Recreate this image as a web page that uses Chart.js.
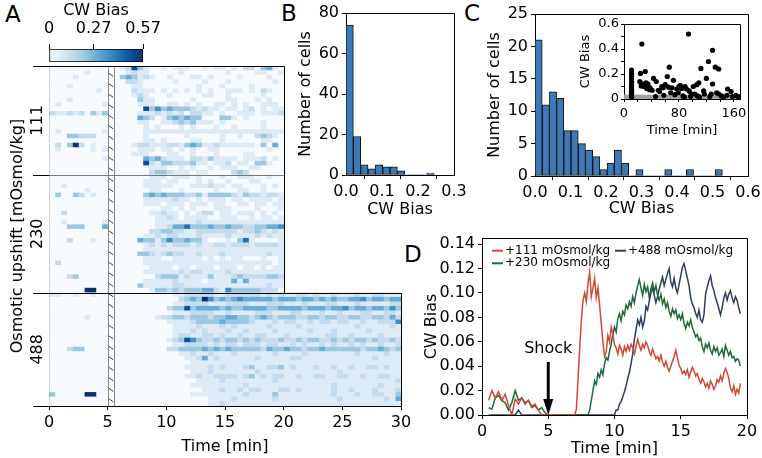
<!DOCTYPE html>
<html>
<head>
<meta charset="utf-8">
<script src="https://cdn.jsdelivr.net/npm/chart.js@4.4.1/dist/chart.umd.min.js"></script>
<style>
  body { margin: 0; background: #fff; width: 762px; height: 458px; overflow: hidden; position: relative; font-family: 'DejaVu Sans'; }
  canvas { position: absolute; }
  .panel { position: absolute; font-size: 23px; line-height: 1; color: #000; }
</style>
</head>
<body>
<div class="panel" style="left:5px;top:3px">A</div>
<div class="panel" style="left:281px;top:2px">B</div>
<div class="panel" style="left:464px;top:2px">C</div>
<div class="panel" style="left:404px;top:243px">D</div>

<canvas id="heat" width="420" height="398" style="left:0;top:60px"></canvas>
<canvas id="cbar" width="150" height="64" style="left:39px;top:0"></canvas>
<canvas id="histB" width="180" height="220" style="left:290px;top:0"></canvas>
<canvas id="histC" width="282" height="220" style="left:480px;top:0"></canvas>
<canvas id="inset" width="172" height="128" style="left:578px;top:10px"></canvas>
<canvas id="lineD" width="362" height="233" style="left:400px;top:225px"></canvas>

<script>
// ---- data ----
const cwMax = 0.57;
const levelStep = 0.072;          // one digit in the heat rows = 0.072 CW bias
const cbTicks = [0, 0.27, 0.57];
const binW = 0.5;                 // heat map bin [min]
const preStart = 0, postStart = 5.5, shockStart = 5, shockEnd = 5.5;

// rows: 10 bins before the shock | bins after it (0.5 min each)
const heat111 = [
  "0000000000|0127310010 1110010110 102203410",
  "0000001000|0012110000 0100000001 000011001",
  "0000100000|0343121001 0001101000 010000100",
  "0000000000|0022100000 1000010001 000000010",
  "0001000000|0001100000 0000100010 000100000",
  "0000000010|0002111010 1010101001 110102100",
  "0000000000|0001210001 0000011001 000001000",
  "0001000000|0000311000 0001000001 100010100",
  "0100000001|0000111001 1010100110 101001110",
  "0000000000|0000073534 3332121101 101201011",
  "2112120313|0000111212 1202211010 011101112",
  "0000000000|0000432013 4343300033 101000000",
  "0000000000|0000110011 2323111010 000001000",
  "0000000000|0000010100 0101000100 100001000",
  "0100000001|0000011111 1111111111 111111111",
  "0003322200|0000010000 0010000010 010023210",
  "0000000000|0000011010 0001100010 000001100",
  "0203820100|0001221112 2134311211 111103040",
  "0100000101|0000111011 0101001100 000000100",
  "0000000000|0001110001 1001000100 001100000",
  "0000000001|0000043421 1102213111 101112010",
  "0000000000|0000072133 2223110112 011033100",
  "0000000000|0000001110 0101001011 100110000",
  "0000000000|0000002332 1110110000 232000000"
];
const heat230 = [
  "0000000000|0000001110 1110100010 011100100",
  "0000000000|0000011101 1000101001 000110000",
  "0010000000|0000011111 0001112110 110001010",
  "0000001000|0000001100 0100000100 011001000",
  "0300320100|0000034343 3322313333 213221221",
  "0000000000|0000011111 2110101110 110111101",
  "0000000000|0000011101 1101110110 011011011",
  "0000000000|0000000011 0101000111 000010001",
  "0020000000|0000001121 1010122011 011101010",
  "0000000000|0000000112 1011110011 100101101",
  "0010000001|0000000111 1111211111 111111111",
  "0003330004|0000000112 4463334334 332233445",
  "0000000000|0000002233 2211222222 212232121",
  "0000000000|0000011212 2111211112 111121211",
  "0002000100|0000433135 3343310001 036100001",
  "0000000000|0000012121 2221211221 222122221",
  "0000000000|0000011111 1111111111 111111111",
  "0000000000|0000332123 2211211121 111111211",
  "0000000000|0000011100 1111101010 110001001",
  "0200000000|0000011111 1111111111 111111101",
  "0000000000|0000001111 0110111011 101101011",
  "0000000000|0000011111 1212211112 111111111",
  "0002300000|0000000233 3121113111 232222332",
  "0000000000|0000011111 2111101111 414111111",
  "0000000000|0000311111 2211111111 111111211",
  "0000008800|0000001332 3233344215 333332220"
];
const heat488 = [
  "1100100100|0000000000 1122222112 2222212121 1221211211 121122111",
  "0000000000|0000000000 0234385343 4544444344 4344343433 445344344",
  "0000000000|0000000000 1122221112 2221112221 1121112211 121111122",
  "0000000000|0000000002 3373444434 3344443344 4434443445 344344353",
  "0000000000|0000000000 1112222112 1111222111 2211121121 112211221",
  "0000001000|0000000122 3323332334 4332343233 3223323322 332233242",
  "0000000000|0000000001 1112333343 3332111212 2112122122 112112225",
  "0000000000|0000000000 1111211121 2111112111 1211111111 121111121",
  "0000000000|0000000000 1112121112 1121111211 1112111211 111211111",
  "0000000000|0000000000 1221122121 1211221112 1111112211 211112111",
  "0000000000|0000000001 2375322323 3232322232 2323322323 233232232",
  "0000000000|0000000000 1122221212 2122212211 2121121211 212112112",
  "0002330000|0000000002 2333343434 3333324334 3323343333 332334323",
  "0000000000|0000000000 0112112111 2111111211 1121111111 121111211",
  "0000000000|0000000000 0011241211 1111211111 2211111111 111121111",
  "0000000000|0000000000 0001111111 1111111111 1111111111 111111111",
  "0000000000|0000000000 0011112121 1123112231 2111211211 211221211",
  "0000000000|0000000000 0001112111 1111211111 1111111121 111111111",
  "0000000000|0000000000 0011211222 2123121221 1211221122 112112211",
  "0000000000|0000000000 0000111121 1111111211 1111111111 111111112",
  "0000000000|0000000000 0001111111 1121111111 1111111211 111112111",
  "0000000000|0000000000 0000011121 1212211122 1211111211 211121112",
  "3000008800|0000000000 0001111111 1121111311 1111111211 121122113",
  "0000000000|0000000000 0000001111 2111111211 1111111121 111111214",
  "0000000000|0000000000 0000001121 1111111111 1111111111 111111111"
];
const groupLabels = ["111", "230", "488"];
const groupEnds = [20, 20, 30];

// B: histogram of CW bias
const binB = 0.0204;
const countsB = [74, 19, 5, 3, 5, 4, 4, 2, 0, 0, 0, 1];
// C: histogram of CW bias
const binC = 0.0203;
const countsC = [21, 11, 13, 12, 7, 7, 5, 4, 3, 1, 2, 4, 2, 0, 1, 0, 0, 0, 1, 0, 0, 1, 0, 0, 0, 1];
// C inset: CW bias vs time
const insetTime = [11, 11, 11, 11, 11, 11, 11, 11, 11, 11, 11, 11,
  26, 24, 31, 23, 27, 32, 25, 29, 35, 38, 43, 47, 50, 55, 60, 63, 66, 65, 70, 72, 68, 77, 79, 82, 84,
  89, 91, 94, 95, 98, 101, 106, 109, 103, 107, 112, 116, 120, 117, 123, 129, 129, 127, 133, 138, 135,
  138, 142, 151, 156, 163, 166, 46, 58, 74, 86, 88, 97, 110, 125, 145, 150, 158, 33, 37, 41, 52, 57, 80];
const insetBias = [0.232, 0.205, 0.18, 0.16, 0.135, 0.11, 0.09, 0.07, 0.055, 0.04, 0.025, 0.015,
  0.44, 0.205, 0.22, 0.14, 0.12, 0.13, 0.105, 0.10, 0.12, 0.09, 0.165, 0.14, 0.07, 0.10, 0.115, 0.18, 0.255, 0.095, 0.09, 0.15, 0.05, 0.08, 0.05, 0.11, 0.085,
  0.10, 0.08, 0.52, 0.065, 0.04, 0.10, 0.115, 0.13, 0.04, 0.025, 0.245, 0.065, 0.165, 0.04, 0.30, 0.39, 0.12, 0.04, 0.255, 0.24, 0.05,
  0.04, 0.025, 0.08, 0.06, 0.03, 0.02, 0.02, 0.03, 0.035, 0.025, 0.015, 0.02, 0.015, 0.02, 0.015, 0.03, 0.02, 0.085, 0.075, 0.07, 0.06, 0.09, 0.1];
const insetBand = 0.035;

// D: mean CW bias around the shock (0.25 min before 7 min, 0.125 min after)
const timeD = [0.5, 0.75, 1, 1.25, 1.5, 1.75, 2, 2.25, 2.5, 2.75, 3, 3.25, 3.5, 3.75, 4, 4.25, 4.5, 4.75, 5, 5.25,
  5.5, 5.75, 6, 6.25, 6.5, 6.75,
  7, 7.125, 7.25, 7.375, 7.5, 7.625, 7.75, 7.875, 8, 8.125, 8.25, 8.375, 8.5, 8.625, 8.75, 8.875,
  9, 9.125, 9.25, 9.375, 9.5, 9.625, 9.75, 9.875, 10, 10.125, 10.25, 10.375, 10.5, 10.625, 10.75, 10.875,
  11, 11.125, 11.25, 11.375, 11.5, 11.625, 11.75, 11.875, 12, 12.125, 12.25, 12.375, 12.5, 12.625, 12.75, 12.875,
  13, 13.125, 13.25, 13.375, 13.5, 13.625, 13.75, 13.875, 14, 14.125, 14.25, 14.375, 14.5, 14.625, 14.75, 14.875,
  15, 15.125, 15.25, 15.375, 15.5, 15.625, 15.75, 15.875, 16, 16.125, 16.25, 16.375, 16.5, 16.625, 16.75, 16.875,
  17, 17.125, 17.25, 17.375, 17.5, 17.625, 17.75, 17.875, 18, 18.125, 18.25, 18.375, 18.5, 18.625, 18.75, 18.875,
  19, 19.125, 19.25, 19.375, 19.5];
const bias111 = [.012, .02, .014, .019, .012, .017, .008, 0, .013, .009, .014, .01, .012, .007, .009, .004, 0, 0, 0, 0,
  0, 0, 0, 0, 0, 0,
  0, .005, .03, .055, .078, .094, .1, .093, .108, .117, .097, .104, .112, .096, .104, .09,
  .075, .06, .048, .052, .065, .06, .072, .066, .058, .055, .05, .057, .054, .049, .056, .052,
  .057, .053, .058, .055, .05, .056, .062, .057, .053, .058, .055, .06, .057, .052, .049, .054,
  .05, .046, .048, .044, .049, .043, .04, .044, .039, .036, .04, .044, .048, .053, .047, .041,
  .038, .034, .036, .033, .037, .031, .035, .039, .036, .032, .034, .029, .026, .03, .027, .023,
  .026, .022, .028, .025, .021, .024, .029, .027, .032, .028, .034, .038, .035, .03, .022, .019,
  .024, .017, .021, .018, .026];
const bias230 = [.006, .005, .014, .016, .012, .01, .004, .01, .02, .012, .014, .009, .012, .006, .008, .004, .006, .002, 0, 0,
  0, 0, 0, 0, 0, 0,
  0, 0, 0, 0, 0, 0, 0, 0, 0, .004, .012, .02, .028, .025, .034, .031,
  .037, .033, .042, .047, .045, .052, .058, .066, .072, .068, .079, .083, .077, .085, .082, .09,
  .087, .093, .089, .097, .092, .1, .106, .111, .104, .098, .107, .101, .105, .096, .103, .108,
  .101, .106, .098, .094, .099, .091, .095, .088, .092, .085, .081, .087, .083, .086, .079, .082,
  .078, .083, .075, .071, .076, .073, .078, .072, .068, .064, .066, .061, .063, .056, .052, .058,
  .055, .059, .053, .05, .056, .052, .055, .049, .051, .054, .048, .057, .053, .049, .052, .047,
  .048, .044, .046, .045, .04];
const bias488 = [0, 0, 0, 0, 0, 0, 0, 0, 0, .004, 0, 0, 0, 0, 0, 0, 0, 0, 0, 0,
  0, 0, 0, 0, 0, 0,
  0, 0, 0, 0, 0, 0, 0, 0, 0, 0, 0, 0, 0, 0, 0, 0,
  0, 0, 0, 0, 0, 0, 0, 0, 0, .004, .004, .009, .011, .015, .019, .024,
  .03, .035, .042, .05, .062, .07, .078, .074, .08, .072, .077, .089, .086, .093, .1, .104,
  .098, .092, .097, .103, .108, .113, .106, .111, .116, .12, .109, .105, .112, .104, .1, .107,
  .114, .121, .124, .118, .112, .106, .096, .091, .088, .083, .08, .086, .078, .076, .082, .099,
  .105, .11, .114, .106, .102, .096, .092, .087, .082, .088, .096, .1, .094, .099, .102, .096,
  .092, .097, .094, .088, .083];
const shockLabelY = 0.0545, shockArrowTop = 0.0435;
// legend slots (column, row) as in the reference, one per dataset
const legendSlots = [[0, 0], [0, 1], [1, 0]];

// ---- helpers ----
const bluesStops = ['#f7fbff', '#deebf7', '#c6dbef', '#9ecae1', '#6baed6', '#4292c6', '#2171b5', '#08519c', '#08306b'];
function hexRgb(h) { return [1, 3, 5].map(i => parseInt(h.slice(i, i + 2), 16)); }
function blues(f) {
  f = Math.max(0, Math.min(1, f));
  const p = f * 8, i = Math.min(7, Math.floor(p)), t = p - i;
  const a = hexRgb(bluesStops[i]), b = hexRgb(bluesStops[i + 1]);
  return 'rgb(' + a.map((v, k) => Math.round(v + (b[k] - v) * t)).join(',') + ')';
}

Chart.defaults.font.family = "'DejaVu Sans'";
Chart.defaults.font.size = 16;
Chart.defaults.color = '#000';
Chart.defaults.animation = false;
Chart.defaults.plugins.legend.display = false;
Chart.defaults.plugins.tooltip.enabled = false;

function px(v) { return Math.round(v) + 0.5; }

const frame = {
  id: 'frame',
  afterDraw(chart) {
    const {ctx, chartArea: a} = chart;
    ctx.save();
    ctx.strokeStyle = '#000';
    ctx.lineWidth = 1;
    ctx.beginPath();
    ctx.moveTo(px(a.left), px(a.top));
    ctx.lineTo(px(a.right), px(a.top));
    ctx.lineTo(px(a.right), px(a.bottom));
    ctx.stroke();
    ctx.restore();
  }
};

function tickGrid(len) {
  return {drawOnChartArea: false, drawTicks: true, tickLength: len || 4, color: '#000'};
}
const blackBorder = {display: true, color: '#000', width: 1};
// fixed axis size, and no extra room for overhanging end labels
function fixH(h) { return s => { s.height = h; s.paddingLeft = 0; s.paddingRight = 0; }; }
function fixW(w) { return s => { s.width = w; s.paddingTop = 0; s.paddingBottom = 0; }; }

// ---- A: heat map ----
const groups = [heat111, heat230, heat488];
const heatRows = [], rowEnd = [];
groups.forEach((g, gi) => g.forEach(r => {
  heatRows.push(r.replace(/\s/g, '').split('|'));
  rowEnd.push(groupEnds[gi]);
}));
const cols = [];
for (let i = 0; i < 10; i++) cols.push({start: preStart + i * binW, part: 0, idx: i});
for (let j = 0; j < 49; j++) cols.push({start: postStart + j * binW, part: 1, idx: j});

const heatDatasets = cols.map(c => {
  const data = [], colors = [];
  heatRows.forEach((row, r) => {
    const ch = row[c.part][c.idx];
    if (ch === undefined || c.start + binW > rowEnd[r] + 1e-9) {
      data.push(null); colors.push('rgba(0,0,0,0)');
    } else {
      data.push([c.start, c.start + binW]);
      colors.push(blues(Number(ch) * levelStep / cwMax));
    }
  });
  return {data, backgroundColor: colors, borderWidth: 0, grouped: false,
          barPercentage: 1, categoryPercentage: 1};
});

const heatOverlay = {
  id: 'heatOverlay',
  afterDraw(chart) {
    const {ctx, scales: {x, y}} = chart;
    const rowH = y.getPixelForValue(1) - y.getPixelForValue(0);
    const edge = k => y.getPixelForValue(k) - rowH / 2;
    const n1 = heat111.length, n2 = heat230.length, n = heatRows.length;
    const yTop = edge(0), yA = edge(n1), yB = edge(n1 + n2), yBot = edge(n);
    const x0 = x.getPixelForValue(0), x20 = x.getPixelForValue(20), x30 = x.getPixelForValue(30);
    const xs = x.getPixelForValue(shockStart), xe = x.getPixelForValue(shockEnd);
    const tickL = x0 - 16;
    ctx.save();
    // hatched gap at the shock
    ctx.save();
    ctx.beginPath();
    ctx.rect(xs, yTop, xe - xs, yBot - yTop);
    ctx.clip();
    ctx.strokeStyle = '#222';
    ctx.lineWidth = 0.9;
    ctx.beginPath();
    for (let yy = yTop - 4; yy < yBot + 8; yy += 10.5) {
      ctx.moveTo(xs, yy);
      ctx.lineTo(xe, yy + 4);
    }
    ctx.stroke();
    ctx.restore();
    ctx.strokeStyle = '#888';
    ctx.lineWidth = 1;
    ctx.beginPath();
    ctx.moveTo(px(xs), yTop); ctx.lineTo(px(xs), yBot);
    ctx.moveTo(px(xe), yTop); ctx.lineTo(px(xe), yBot);
    ctx.stroke();
    // inner border between 111 and 230
    ctx.strokeStyle = '#777';
    ctx.beginPath();
    ctx.moveTo(x0, px(yA)); ctx.lineTo(x20, px(yA));
    ctx.stroke();
    // outer frame and long ticks
    ctx.strokeStyle = '#000';
    ctx.beginPath();
    ctx.moveTo(tickL, px(yTop)); ctx.lineTo(px(x20), px(yTop)); ctx.lineTo(px(x20), px(yB));
    ctx.moveTo(tickL, px(yB)); ctx.lineTo(px(x30), px(yB)); ctx.lineTo(px(x30), px(yBot));
    ctx.moveTo(tickL, px(yA)); ctx.lineTo(x0, px(yA));
    ctx.moveTo(tickL, px(yBot)); ctx.lineTo(x0, px(yBot));
    ctx.stroke();
    // group labels
    ctx.fillStyle = '#000';
    ctx.font = "16px 'DejaVu Sans'";
    ctx.textAlign = 'center';
    ctx.textBaseline = 'middle';
    [[yTop, yA], [yA, yB], [yB, yBot]].forEach((b, i) => {
      ctx.save();
      ctx.translate(x0 - 11, (b[0] + b[1]) / 2);
      ctx.rotate(-Math.PI / 2);
      ctx.fillText(groupLabels[i], 0, 0);
      ctx.restore();
    });
    ctx.restore();
  }
};

new Chart(document.getElementById('heat'), {
  type: 'bar',
  data: {labels: heatRows.map((_, i) => String(i)), datasets: heatDatasets},
  options: {
    responsive: false,
    indexAxis: 'y',
    layout: {padding: {left: 0, right: 19, top: 6, bottom: 0}},
    scales: {
      x: {type: 'linear', min: 0, max: 30,
          ticks: {stepSize: 5, padding: 3},
          grid: tickGrid(4), border: blackBorder,
          title: {display: true, text: 'Time [min]', padding: {top: 0, bottom: 2}},
          afterFit: fixH(52)},
      y: {ticks: {display: false}, grid: {display: false}, border: blackBorder,
          title: {display: true, text: 'Osmotic upshift [mOsmol/kg]', padding: {top: 8, bottom: 0}},
          afterFit: fixW(49)}
    }
  },
  plugins: [heatOverlay]
});

// ---- A: colour bar ----
new Chart(document.getElementById('cbar'), {
  type: 'bar',
  data: {labels: ['cw'], datasets: [{
    data: [[0, cwMax]],
    backgroundColor: c => {
      const ch = c.chart;
      if (!ch.chartArea) return null;
      const xs = ch.scales.x;
      const g = ch.ctx.createLinearGradient(xs.getPixelForValue(0), 0, xs.getPixelForValue(cwMax), 0);
      bluesStops.forEach((col, i) => g.addColorStop(i / 8, col));
      return g;
    },
    borderColor: '#000', borderWidth: 1, borderSkipped: false,
    barPercentage: 1, categoryPercentage: 1
  }]},
  options: {
    responsive: false,
    indexAxis: 'y',
    layout: {padding: {left: 10, right: 46, top: 0, bottom: 2}},
    scales: {
      x: {type: 'linear', position: 'top', min: 0, max: cwMax,
          afterBuildTicks: s => { s.ticks = cbTicks.map(v => ({value: v})); },
          ticks: {padding: 6, autoSkip: false, maxRotation: 0, callback: v => String(v)},
          grid: tickGrid(5), border: {display: false},
          title: {display: true, text: 'CW Bias', padding: {top: 1, bottom: 0}},
          afterFit: fixH(49)},
      y: {display: false}
    }
  }
});

// ---- B / C histograms ----
function histData(counts, w) {
  return counts.map((c, i) => ({x: (i + 0.5) * w, y: c}));
}
function histDataset(counts, w) {
  return {
    data: histData(counts, w),
    backgroundColor: '#3d79b5',
    borderColor: '#111',
    borderWidth: c => (c.raw && c.raw.y > 0 ? 1 : 0),
    borderSkipped: false,
    barPercentage: 1, categoryPercentage: 1
  };
}

new Chart(document.getElementById('histB'), {
  type: 'bar',
  data: {datasets: [histDataset(countsB, binB)]},
  options: {
    responsive: false,
    layout: {padding: {left: 0, right: 16, top: 13, bottom: 0}},
    scales: {
      x: {type: 'linear', min: 0, max: 0.3, offset: false,
          ticks: {stepSize: 0.1, callback: v => v.toFixed(1)},
          grid: tickGrid(4), border: blackBorder,
          title: {display: true, text: 'CW Bias', padding: {top: 0, bottom: 1}},
          afterFit: fixH(45)},
      y: {min: 0, max: 80, ticks: {stepSize: 10},
          grid: tickGrid(4), border: blackBorder,
          title: {display: true, text: 'Number of cells', padding: {top: 6, bottom: 0}},
          afterFit: fixW(56)}
    }
  },
  plugins: [frame]
});

new Chart(document.getElementById('histC'), {
  type: 'bar',
  data: {datasets: [histDataset(countsC, binC)]},
  options: {
    responsive: false,
    layout: {padding: {left: 0, right: 14, top: 14, bottom: 0}},
    scales: {
      x: {type: 'linear', min: 0, max: 0.6, offset: false,
          ticks: {stepSize: 0.1, callback: v => v.toFixed(1)},
          grid: tickGrid(4), border: blackBorder,
          title: {display: true, text: 'CW Bias', padding: {top: 0, bottom: 2}},
          afterFit: fixH(44)},
      y: {min: 0, max: 25, ticks: {stepSize: 5},
          grid: tickGrid(4), border: blackBorder,
          title: {display: true, text: 'Number of cells', padding: {top: 5, bottom: 0}},
          afterFit: fixW(55)}
    }
  },
  plugins: [frame]
});

// ---- C inset ----
const band = {
  id: 'band',
  beforeDatasetsDraw(chart) {
    const {ctx, chartArea: a, scales: {y}} = chart;
    ctx.save();
    ctx.fillStyle = '#a2a2a2';
    const yt = y.getPixelForValue(insetBand);
    ctx.fillRect(a.left, yt, a.right - a.left, y.getPixelForValue(0) - yt);
    ctx.restore();
  }
};
new Chart(document.getElementById('inset'), {
  type: 'scatter',
  data: {datasets: [{
    data: insetTime.map((t, i) => ({x: t, y: insetBias[i]})),
    backgroundColor: '#000', borderWidth: 0, pointRadius: 2.6
  }]},
  options: {
    responsive: false,
    layout: {padding: {left: 0, right: 10, top: 14, bottom: 0}},
    scales: {
      x: {min: 0, max: 169,
          ticks: {stepSize: 20, padding: 4, font: {size: 13}, includeBounds: false, autoSkip: false, maxRotation: 0,
                  callback: v => (v % 80 === 0 ? String(v) : '')},
          grid: tickGrid(3), border: blackBorder,
          title: {display: true, text: 'Time [min]', font: {size: 13}, padding: {top: 0, bottom: 0}},
          afterFit: fixH(39)},
      y: {min: 0, max: 0.6,
          ticks: {stepSize: 0.1, padding: 2, font: {size: 13}, autoSkip: false,
                  callback: v => (Math.round(v * 10) % 2 === 0 ? (v === 0 ? '0' : v.toFixed(1)) : '')},
          grid: tickGrid(3), border: blackBorder,
          title: {display: true, text: 'CW Bias', font: {size: 13}, padding: {top: 0, bottom: 0}},
          afterFit: fixW(46)}
    }
  },
  plugins: [band, frame]
});

// ---- D ----
const shock = {
  id: 'shock',
  afterDatasetsDraw(chart) {
    const {ctx, scales: {x, y}} = chart;
    const xp = x.getPixelForValue(shockStart);
    ctx.save();
    ctx.fillStyle = '#000';
    ctx.strokeStyle = '#000';
    ctx.font = "16px 'DejaVu Sans'";
    ctx.textAlign = 'center';
    ctx.textBaseline = 'middle';
    ctx.fillText('Shock', xp, y.getPixelForValue(shockLabelY));
    const y1 = y.getPixelForValue(shockArrowTop), y2 = y.getPixelForValue(0);
    ctx.lineWidth = 3;
    ctx.beginPath();
    ctx.moveTo(xp, y1);
    ctx.lineTo(xp, y2 - 14);
    ctx.stroke();
    ctx.beginPath();
    ctx.moveTo(xp - 5, y2 - 16);
    ctx.lineTo(xp + 5, y2 - 16);
    ctx.lineTo(xp, y2);
    ctx.closePath();
    ctx.fill();
    ctx.restore();
  }
};
const legendIn = {
  id: 'legendIn',
  afterDraw(chart) {
    const {ctx, chartArea: a} = chart;
    ctx.save();
    ctx.font = "12px 'DejaVu Sans'";
    ctx.textBaseline = 'middle';
    ctx.textAlign = 'left';
    chart.data.datasets.forEach((ds, i) => {
      const [c, r] = legendSlots[i];
      const x = a.left + 10 + c * 123, y = a.top + 12.7 + r * 12.6;
      ctx.strokeStyle = ds.borderColor;
      ctx.lineWidth = 2;
      ctx.beginPath();
      ctx.moveTo(x, y); ctx.lineTo(x + 11, y);
      ctx.stroke();
      ctx.fillStyle = '#000';
      ctx.fillText(ds.label, x + 13, y);
    });
    ctx.restore();
  }
};
function lineSet(label, values, color) {
  return {label, data: timeD.map((t, i) => ({x: t, y: values[i]})),
          borderColor: color, backgroundColor: color, borderWidth: 1.5,
          pointRadius: 0, tension: 0, fill: false};
}
new Chart(document.getElementById('lineD'), {
  type: 'line',
  data: {datasets: [
    lineSet('+111 mOsmol/kg', bias111, '#cf4a36'),
    lineSet('+230 mOsmol/kg', bias230, '#1d6b3b'),
    lineSet('+488 mOsmol/kg', bias488, '#2c3f5f')
  ]},
  options: {
    responsive: false,
    layout: {padding: {left: 0, right: 15, top: 13, bottom: 0}},
    scales: {
      x: {type: 'linear', min: 0, max: 20, ticks: {stepSize: 5},
          grid: tickGrid(4), border: blackBorder,
          title: {display: true, text: 'Time [min]', padding: {top: 0, bottom: 0}},
          afterFit: fixH(43)},
      y: {min: 0, max: 0.145, ticks: {stepSize: 0.02, includeBounds: false, callback: v => v.toFixed(2)},
          grid: tickGrid(4), border: blackBorder,
          title: {display: true, text: 'CW Bias', padding: {top: 22, bottom: 0}},
          afterFit: fixW(82)}
    }
  },
  plugins: [shock, legendIn, frame]
});
</script>
</body>
</html>
